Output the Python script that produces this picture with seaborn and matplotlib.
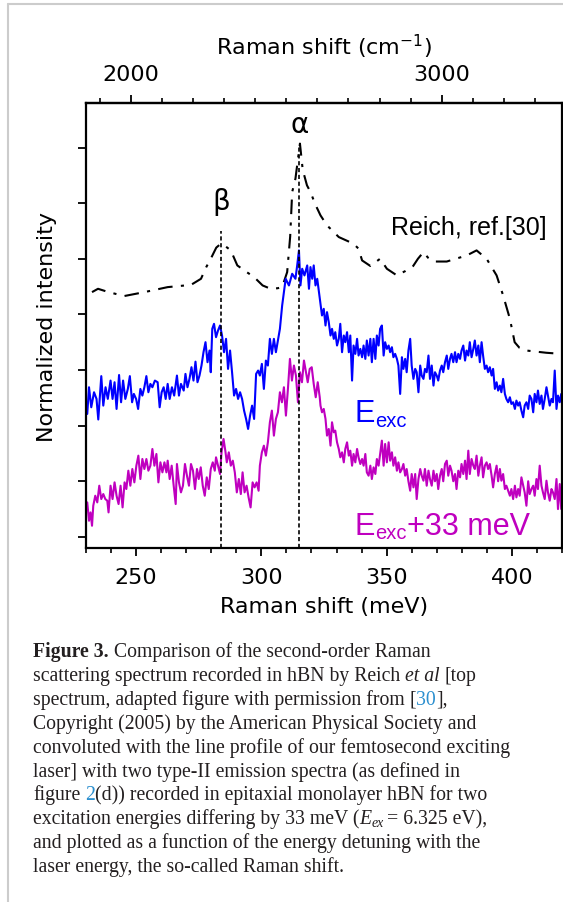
import matplotlib
matplotlib.use("Agg")
import matplotlib.pyplot as plt
import seaborn as sns
from matplotlib.lines import Line2D
from matplotlib.ticker import MultipleLocator

# ---------------- data ----------------
reich_x = [232.4, 234.8, 239.0, 245.3, 253.3, 262.6, 271.9, 275.9, 278.0, 279.8, 282.0, 283.8, 285.8, 287.8,
           290.4, 293.5, 297.1, 300.5, 303.7, 306.5, 308.3, 310.3, 311.5, 312.3, 313.6, 315.4, 316.5, 318.2,
           319.6, 321.5, 323.6, 326.2, 330.9, 336.8, 338.8, 340.2, 343.5, 347.4, 350.1, 354.1, 357.5, 360.6,
           362.5, 364.7, 366.5, 368.7, 374.0, 382.0, 385.9, 389.9, 393.9, 396.5, 399.2, 401.1, 403.0, 405.8,
           413.7, 419.7]
reich_y = [4.40, 4.46, 4.40, 4.33, 4.40, 4.49, 4.53, 4.64, 4.85, 5.00, 5.20, 5.27, 5.22, 5.15,
           4.88, 4.78, 4.67, 4.52, 4.46, 4.47, 4.49, 4.76, 5.40, 6.20, 6.44, 7.07, 6.60, 6.32,
           6.20, 5.98, 5.78, 5.60, 5.39, 5.27, 5.18, 4.97, 4.87, 5.00, 4.82, 4.70, 4.78, 4.87,
           5.00, 5.12, 5.02, 4.95, 4.95, 5.06, 5.15, 5.00, 4.70, 4.34, 3.92, 3.50, 3.40, 3.35,
           3.31, 3.29]

exc_x_left = [230.5, 231.2, 232.1, 233.2, 234.2, 234.9, 236.1, 236.9, 237.8, 238.7,
              239.8, 240.6, 241.4, 242.2, 243.2, 244.0, 244.8, 245.7, 246.7, 247.5,
              248.4, 249.1, 250.0, 250.8, 251.7, 252.5, 253.3, 254.1, 254.9, 255.7,
              256.5, 257.5, 258.6, 259.4, 260.2, 261.0, 261.8, 262.6, 263.4, 264.3,
              265.2, 266.3, 267.1, 267.9, 269.0, 269.7, 270.5, 271.3, 272.1, 272.9,
              273.7, 274.5, 275.3, 276.1, 276.9, 277.7, 278.5, 279.3, 279.8, 280.4,
              281.1, 281.9, 282.7, 283.5, 284.3, 285.1, 285.9, 286.7, 287.5, 288.3,
              289.1, 289.9, 290.7, 291.5, 292.3, 293.1, 293.9, 294.7, 295.5, 296.3,
              297.1, 297.9, 298.7, 299.4, 300.2, 301.0, 301.8, 302.6, 303.4, 304.2,
              305.0, 305.8, 306.6, 307.4,
              308.3, 309.7, 311.0, 312.3, 313.6, 314.3, 315.0, 315.6, 316.3, 317.2,
              318.3, 319.0, 319.6, 320.3, 320.9, 321.6, 322.3, 323.0]
exc_y_left = [2.21, 2.69, 2.33, 2.60, 2.48, 2.11, 2.89, 2.36, 2.69, 2.48,
              2.81, 2.48, 2.78, 2.30, 2.91, 2.42, 2.81, 2.48, 2.66, 2.89,
              2.42, 2.57, 2.48, 2.30, 2.66, 2.54, 2.69, 2.89, 2.60, 2.75,
              2.69, 2.81, 2.78, 2.33, 2.60, 2.69, 2.48, 2.75, 2.48, 2.69,
              2.54, 2.90, 2.54, 2.75, 2.63, 2.93, 2.69, 2.84, 3.05, 2.81,
              3.15, 2.78, 2.90, 3.08, 3.32, 3.50, 3.14, 3.35, 2.96, 3.74,
              3.83, 3.59, 3.71, 3.80, 3.62, 3.32, 3.56, 3.02, 3.35, 2.96,
              2.54, 2.66, 2.48, 2.60, 2.48, 2.27, 2.12, 1.94, 2.18, 2.36,
              2.12, 2.93, 2.99, 2.90, 3.11, 2.66, 3.17, 3.08, 3.56, 3.29,
              3.56, 3.32, 3.53, 3.74,
              4.16, 4.64, 4.52, 4.73, 4.64, 4.88, 5.15, 4.52, 4.82, 4.70,
              4.88, 4.46, 4.85, 4.64, 4.88, 4.52, 4.64, 4.40]

shift_right = [323.6, 324.2, 324.9, 325.6, 326.2, 326.9, 327.6, 328.2, 328.9, 329.5,
               330.2, 330.9, 331.5, 332.2, 332.9, 333.5, 334.2, 334.9, 335.5, 336.2,
               336.8, 337.5, 338.2, 338.8, 339.5, 340.2, 340.8, 341.5, 342.1, 342.8,
               343.5, 344.1, 344.8, 345.5, 346.1, 346.8, 347.4, 348.1, 348.8, 349.4,
               350.1, 350.8, 351.4, 352.1, 352.7, 353.4, 354.1, 354.7, 355.4, 356.1,
               356.7, 357.4, 358.0, 358.7, 359.4, 360.0, 360.7, 361.4, 362.0, 362.7,
               363.4, 364.0, 364.7, 365.3, 366.0, 366.7, 367.3, 368.0, 368.7, 369.3,
               370.0, 370.6, 371.3, 372.0, 372.6, 373.3, 374.0, 374.6, 375.3, 375.9,
               376.6, 377.3, 377.9, 378.6, 379.3, 379.9, 380.6, 381.3, 381.9, 382.6,
               383.2, 383.9, 384.6, 385.2, 385.9, 386.6, 387.2, 387.9, 388.5, 389.2,
               389.9, 390.5, 391.2, 391.9, 392.5, 393.2, 393.9, 394.5, 395.2, 395.8,
               396.5, 397.2, 397.8, 398.5, 399.2, 399.8, 400.5, 401.2, 401.8, 402.5,
               403.1, 403.8, 404.5, 405.1, 405.8, 406.5, 407.1, 407.8, 408.5, 409.1,
               409.8, 410.4, 411.1, 411.8, 412.4, 413.1, 413.8, 414.4, 415.1, 415.8,
               416.4, 417.1, 417.8, 418.4, 419.1, 419.7]
exc_y_right = [4.19, 3.98, 4.10, 3.80, 4.04, 3.86, 3.62, 3.74, 3.56, 3.68,
               3.44, 3.56, 3.83, 3.32, 3.62, 3.50, 3.68, 3.32, 3.62, 2.81,
               3.44, 3.29, 3.56, 3.26, 3.38, 3.23, 3.44, 3.20, 3.53, 3.26,
               3.56, 3.14, 3.56, 3.20, 3.62, 3.44, 3.74, 3.80, 3.26, 3.50,
               3.38, 3.44, 3.32, 3.41, 3.23, 3.29, 3.20, 3.08, 2.57, 3.23,
               3.02, 3.20, 2.96, 3.35, 3.56, 3.08, 2.84, 3.02, 2.96, 2.60,
               3.08, 2.90, 2.84, 3.02, 2.96, 3.26, 2.84, 3.08, 2.72, 2.96,
               2.90, 2.81, 2.99, 3.08, 2.96, 3.14, 3.26, 3.02, 3.20, 3.29,
               3.14, 3.32, 3.14, 3.29, 3.20, 3.35, 3.44, 3.17, 3.35, 3.26,
               3.50, 3.23, 3.38, 3.53, 3.26, 3.44, 3.14, 3.50, 3.26, 3.02,
               3.08, 2.96, 3.05, 2.90, 3.02, 2.66, 2.78, 2.63, 2.72, 2.60,
               2.84, 2.57, 2.48, 2.42, 2.51, 2.39, 2.42, 2.30, 2.45, 2.36,
               2.42, 2.27, 2.15, 2.36, 2.42, 2.30, 2.54, 2.48, 2.24, 2.57,
               2.42, 2.63, 2.39, 2.54, 2.30, 2.48, 2.69, 2.54, 2.36, 2.48,
               2.42, 2.99, 2.30, 2.54, 2.42, 2.57]

exc33_x_left = [230.5, 231.2, 231.8, 232.4, 232.9, 233.7, 234.5, 235.3, 236.1, 236.9,
                237.7, 238.5, 239.0, 239.8, 240.6, 241.4, 242.2, 243.0, 243.8, 244.6,
                245.4, 246.1, 246.9, 247.7, 248.5, 249.3, 250.1, 250.9, 251.7, 252.5,
                253.3, 254.1, 254.9, 255.7, 256.5, 257.3, 258.1, 258.9, 259.7, 260.5,
                261.3, 262.1, 262.6, 263.4, 264.2, 265.0, 265.8, 266.3, 267.1, 267.9,
                268.7, 269.5, 270.3, 271.1, 271.9, 272.7, 273.5, 274.3, 275.0, 275.8,
                276.6, 277.4, 278.2, 279.0, 279.8, 280.6, 281.4, 281.9, 282.7, 283.5,
                284.1, 284.9, 285.7, 286.2, 287.0, 287.8, 288.6, 289.4, 290.2, 291.0,
                291.8, 292.5, 293.3, 294.1, 294.9, 295.7, 296.5, 297.3, 298.1, 298.9,
                299.4, 300.2, 301.0, 301.8, 302.6, 303.4, 304.2, 305.0, 305.8, 306.6,
                307.4, 308.2, 309.0, 309.8, 310.6, 311.4, 312.2, 313.0, 313.8, 314.6,
                315.4, 316.2, 317.0, 317.7, 318.5, 319.3, 320.1, 320.9, 321.7, 322.5,
                323.3]
exc33_y_left = [0.62, 0.29, 0.44, 0.20, 0.56, 0.74, 0.62, 0.92, 0.68, 0.77,
                0.68, 0.65, 0.44, 0.92, 0.68, 0.98, 0.74, 0.59, 0.92, 0.53,
                0.98, 0.86, 1.19, 0.92, 1.22, 0.98, 1.28, 1.46, 1.04, 1.40,
                1.22, 1.40, 1.19, 1.28, 1.58, 1.28, 1.49, 0.98, 1.34, 1.16,
                1.34, 1.16, 1.37, 1.04, 1.28, 0.92, 0.59, 1.31, 0.98, 0.80,
                0.92, 1.31, 1.10, 0.92, 1.31, 1.19, 0.86, 1.22, 1.04, 1.25,
                0.92, 0.74, 1.07, 0.86, 1.22, 1.34, 1.19, 1.43, 1.28, 1.13,
                1.52, 1.76, 1.52, 1.34, 1.52, 1.28, 1.37, 1.16, 0.80, 1.04,
                0.77, 1.16, 0.80, 0.92, 0.71, 0.53, 0.98, 0.89, 0.98, 0.83,
                1.28, 1.52, 1.64, 1.46, 1.70, 2.06, 2.27, 1.82, 2.12, 2.24,
                2.60, 2.42, 2.69, 2.18, 2.66, 3.20, 2.81, 3.08, 2.90, 2.42,
                2.96, 2.78, 3.17, 2.99, 2.78, 3.02, 3.05, 2.75, 2.51, 2.78,
                2.51]
exc33_y_right = [2.36, 2.24, 2.30, 2.12, 1.82, 1.94, 1.64, 2.06, 1.88, 1.91,
                 1.70, 1.58, 1.43, 1.52, 1.34, 1.58, 1.70, 1.46, 1.55, 1.28,
                 1.49, 1.34, 1.58, 1.43, 1.31, 1.40, 1.28, 1.49, 1.16, 1.10,
                 1.28, 1.04, 1.25, 1.13, 1.40, 1.28, 1.49, 1.73, 1.28, 1.67,
                 1.34, 1.70, 1.37, 1.52, 1.28, 1.43, 1.19, 1.34, 1.16, 1.22,
                 1.31, 1.10, 1.22, 1.00, 0.83, 1.13, 0.89, 1.13, 0.68, 1.04,
                 1.22, 1.10, 1.01, 1.22, 0.92, 1.19, 1.04, 0.92, 1.19, 1.00,
                 1.13, 0.86, 1.10, 1.22, 1.00, 1.31, 1.37, 1.10, 1.28, 1.19,
                 1.00, 1.13, 0.86, 1.19, 1.07, 1.31, 1.13, 1.37, 1.04, 1.55,
                 1.13, 1.40, 1.28, 1.22, 1.46, 1.10, 1.28, 1.43, 1.07, 1.28,
                 1.34, 1.22, 1.31, 1.10, 0.89, 1.13, 1.28, 1.00, 1.22, 1.01,
                 1.13, 0.86, 0.92, 0.83, 0.74, 0.86, 0.68, 0.92, 0.71, 0.86,
                 0.74, 1.07, 0.92, 0.80, 0.56, 1.00, 0.77, 0.86, 0.92, 0.74,
                 1.04, 0.86, 1.28, 0.92, 0.80, 0.68, 1.01, 0.80, 0.65, 0.86,
                 0.80, 0.68, 1.04, 0.50, 0.95, 0.50]

beta_pos, beta_top = 283.9, 5.5
alpha_pos, alpha_top = 315.2, 7.05
x_major = [250, 300, 350, 400]
cm_major = [2000, 3000]
y_ticks = [0, 1, 2, 3, 4, 5, 6, 7]
MEV_TO_CM = 8.06554

exc_x = exc_x_left + shift_right
exc_y = exc_y_left + exc_y_right
exc33_x = exc33_x_left + shift_right
exc33_y = exc33_y_left + exc33_y_right

# ---------------- figure ----------------
W, H = 563, 903
sns.set_theme(style="ticks")
plt.rcParams["font.family"] = ["DejaVu Sans"]
for k in ["axes.edgecolor", "xtick.color", "ytick.color", "text.color", "axes.labelcolor"]:
    plt.rcParams[k] = "black"

fig = plt.figure(figsize=(W / 100, H / 100), dpi=100)
fig.patch.set_facecolor("white")
ax = fig.add_axes([86 / W, 1 - 549 / H, (562 - 86) / W, (549 - 104) / H])

sns.lineplot(x=reich_x, y=reich_y, ax=ax, color="black", lw=1.5,
             linestyle=(0, (7, 4, 1.5, 4)), estimator=None, sort=False)
sns.lineplot(x=exc_x, y=exc_y, ax=ax, color="#0000ff", lw=1.5, estimator=None, sort=False)
sns.lineplot(x=exc33_x, y=exc33_y, ax=ax, color="#bf00bf", lw=1.5, estimator=None, sort=False)

ax.plot([beta_pos, beta_pos], [-0.2, beta_top], color="black", lw=1.2, linestyle=(0, (2.5, 1.6)))
ax.plot([alpha_pos, alpha_pos], [-0.2, alpha_top], color="black", lw=1.2, linestyle=(0, (2.5, 1.6)))

ax.set_xlim(230, 420)
ax.set_ylim(-0.2, 7.8)
ax.set_xticks(x_major)
ax.xaxis.set_minor_locator(MultipleLocator(10))
ax.set_yticks(y_ticks)
ax.set_yticklabels([])
ax.tick_params(axis="both", which="major", direction="out", length=6, width=1.3,
               labelsize=16, pad=8)
ax.tick_params(axis="x", which="minor", direction="out", length=3.5, width=1.2)
ax.tick_params(axis="y", which="minor", left=False)
for s in ax.spines.values():
    s.set_linewidth(1.6)
    s.set_color("black")
ax.set_xlabel("Raman shift (meV)", fontsize=16, labelpad=6)
ax.set_ylabel("Normalized intensity", fontsize=16, labelpad=7)

sec = ax.secondary_xaxis("top", functions=(lambda e: e * MEV_TO_CM, lambda c: c / MEV_TO_CM))
sec.set_xticks(cm_major)
sec.xaxis.set_minor_locator(MultipleLocator(100))
sec.tick_params(axis="x", which="major", direction="out", length=6, width=1.3, labelsize=16, pad=8)
sec.tick_params(axis="x", which="minor", direction="out", length=3.5, width=1.2)
sec.spines["top"].set_linewidth(1.6)
sec.set_xlabel("Raman shift (cm$^{-1}$)", fontsize=16, labelpad=7)

ax.text(alpha_pos, 7.27, "α", ha="center", va="baseline", fontsize=20)
ax.text(beta_pos, 5.9, "β", ha="center", va="baseline", fontsize=20)
ax.text(413.8, 5.45, "Reich, ref.[30]", ha="right", va="baseline", fontsize=18,
        family=["Liberation Sans"])

fig.canvas.draw()
R = fig.canvas.get_renderer()


def measure(s, **kw):
    t = fig.text(0, 0, s, **kw)
    w = t.get_window_extent(R).width
    t.remove()
    return w


def runs(x, y, items):
    """Draw text runs left to right; x, y in pixels from top-left (baseline)."""
    for s, kw, dy, sp in items:
        t = fig.text(x / W, 1 - (y + dy) / H, s, va="baseline", ha="left", **kw)
        x = t.get_window_extent(R).x1
        if sp:
            x += measure("n n", **kw) - measure("nn", **kw)
    return x


lab = dict(family=["Liberation Sans"])
runs(355, 422, [("E", dict(fontsize=22, color="#0000ff", **lab), 0, False),
                ("exc", dict(fontsize=14.5, color="#0000ff", **lab), 5, False)])
runs(355, 535, [("E", dict(fontsize=22, color="#bf00bf", **lab), 0, False),
                ("exc", dict(fontsize=14.5, color="#bf00bf", **lab), 4, False),
                ("+33 meV", dict(fontsize=22, color="#bf00bf", **lab), 0, False)])

# ---------------- caption ----------------
CF = 14.2
cap = dict(family=["Liberation Serif"], fontsize=CF, color="#231f20")
capb = dict(cap, weight="bold")
capi = dict(cap, style="italic")
capl = dict(cap, color="#2b8fcf")
caps = dict(cap, style="italic", fontsize=CF * 0.7)

lines = [
    [("Figure 3.", capb, 0, True), ("Comparison of the second-order Raman", cap, 0, False)],
    [("scattering spectrum recorded in hBN by Reich", cap, 0, True), ("et al", capi, 0, True),
     ("[top", cap, 0, False)],
    [("spectrum, adapted figure with permission from", cap, 0, True), ("[", cap, 0, False),
     ("30", capl, 0, False), ("],", cap, 0, False)],
    [("Copyright (2005) by the American Physical Society and", cap, 0, False)],
    [("convoluted with the line profile of our femtosecond exciting", cap, 0, False)],
    [("laser] with two type-II emission spectra (as defined in", cap, 0, False)],
    [("figure", cap, 0, True), ("2", capl, 0, False),
     ("(d)) recorded in epitaxial monolayer hBN for two", cap, 0, False)],
    [("excitation energies differing by 33 meV (", cap, 0, False), ("E", capi, 0, False),
     ("ex", caps, 3, True), ("= 6.325 eV),", cap, 0, False)],
    [("and plotted as a function of the energy detuning with the", cap, 0, False)],
    [("laser energy, the so-called Raman shift.", cap, 0, False)],
]
baselines = [657, 681, 705, 729, 753, 777, 800, 824, 848, 872]
for items, yb in zip(lines, baselines):
    runs(33, yb, items)

# frame lines
fig.add_artist(Line2D([8 / W, 8 / W], [0, 1 - 5 / H], color="#cccccc", lw=1.5,
                      transform=fig.transFigure))
fig.add_artist(Line2D([8 / W, 1], [1 - 5 / H, 1 - 5 / H], color="#cccccc", lw=1.5,
                      transform=fig.transFigure))

fig.savefig("out.png", dpi=100, facecolor="white")
